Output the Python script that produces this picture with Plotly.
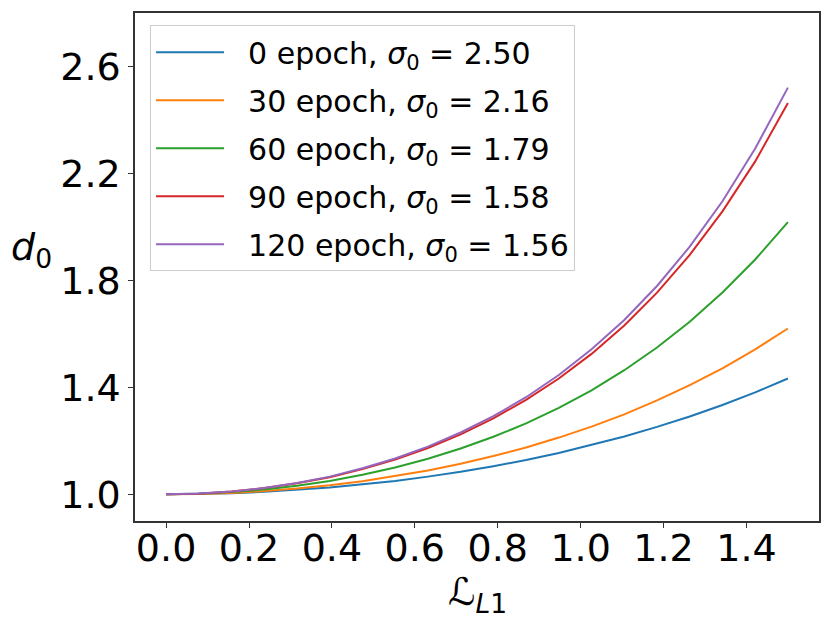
import plotly.graph_objects as go

# Data
loss_l1 = [0.0, 0.0789, 0.1579, 0.2368, 0.3158, 0.3947, 0.4737, 0.5526, 0.6316, 0.7105,
           0.7895, 0.8684, 0.9474, 1.0263, 1.1053, 1.1842, 1.2632, 1.3421, 1.4211, 1.5]
d0_epoch0 = [1.000, 1.001, 1.004, 1.009, 1.016, 1.025, 1.037, 1.050, 1.066, 1.084,
             1.105, 1.128, 1.154, 1.184, 1.216, 1.252, 1.291, 1.334, 1.381, 1.433]
d0_epoch30 = [1.000, 1.001, 1.005, 1.012, 1.022, 1.034, 1.049, 1.068, 1.089, 1.114,
              1.143, 1.175, 1.212, 1.253, 1.299, 1.351, 1.408, 1.471, 1.542, 1.620]
d0_epoch60 = [1.000, 1.002, 1.008, 1.018, 1.032, 1.050, 1.073, 1.100, 1.133, 1.171,
              1.215, 1.265, 1.323, 1.389, 1.464, 1.549, 1.645, 1.755, 1.878, 2.018]
d0_epoch90 = [1.000, 1.002, 1.010, 1.023, 1.041, 1.064, 1.094, 1.130, 1.173, 1.224,
              1.284, 1.353, 1.433, 1.525, 1.631, 1.754, 1.895, 2.058, 2.245, 2.463]
d0_epoch120 = [1.000, 1.003, 1.010, 1.023, 1.042, 1.066, 1.097, 1.134, 1.178, 1.231,
               1.292, 1.363, 1.446, 1.542, 1.652, 1.779, 1.926, 2.096, 2.293, 2.521]

series_names = [
    "0 epoch, <i>σ</i><sub>0</sub> = 2.50",
    "30 epoch, <i>σ</i><sub>0</sub> = 2.16",
    "60 epoch, <i>σ</i><sub>0</sub> = 1.79",
    "90 epoch, <i>σ</i><sub>0</sub> = 1.58",
    "120 epoch, <i>σ</i><sub>0</sub> = 1.56",
]
series_values = [d0_epoch0, d0_epoch30, d0_epoch60, d0_epoch90, d0_epoch120]
colors = ['#1f77b4', '#ff7f0e', '#2ca02c', '#d62728', '#9467bd']

x_ticks = [0.0, 0.2, 0.4, 0.6, 0.8, 1.0, 1.2, 1.4]
y_ticks = [1.0, 1.4, 1.8, 2.2, 2.6]

FONT = "DejaVu Sans"

fig = go.Figure()

for i, (name, vals, col) in enumerate(zip(series_names, series_values, colors)):
    fig.add_trace(go.Scatter(
        x=loss_l1,
        y=vals,
        mode='lines',
        # small lead-in gap so the label sits away from the line sample
        name="&nbsp;&nbsp;" + name,
        legendgroup=str(i),
        line=dict(color=col, width=2),
    ))

fig.update_layout(
    width=830,
    height=626,
    margin=dict(l=127, r=19, t=3, b=113),
    paper_bgcolor='white',
    plot_bgcolor='white',
    font=dict(family=FONT, color='black'),
    showlegend=True,
    legend=dict(
        x=0.022, y=0.976, xanchor='left', yanchor='top',
        bgcolor='rgba(255,255,255,0.8)',
        bordercolor='#cccccc', borderwidth=1,
        font=dict(family=FONT, size=30, color='black'),
        itemwidth=68,
        tracegroupgap=6,
    ),
    annotations=[
        dict(text="<i>d</i><sub>0</sub>", xref='paper', yref='paper',
             x=-0.151, y=0.535, xanchor='center', yanchor='middle',
             showarrow=False,
             font=dict(family=FONT, size=38, color='black')),
        dict(text="ℒ<sub><i>L</i>1</sub>", xref='paper', yref='paper',
             x=0.5, y=-0.145, xanchor='center', yanchor='middle',
             showarrow=False,
             font=dict(family=FONT, size=38, color='black')),
    ],
)

fig.update_xaxes(
    range=[-0.075, 1.575],
    tickvals=x_ticks,
    ticktext=[f"{v:.1f}" for v in x_ticks],
    ticks='outside', ticklen=5, tickwidth=1.2, tickcolor='#333333',
    ticklabelstandoff=-12,
    tickfont=dict(family=FONT, size=38, color='black'),
    showline=True, linecolor='#333333', linewidth=1.5, mirror=True,
    showgrid=False, zeroline=False,
)
fig.update_yaxes(
    range=[0.9, 2.8],
    tickvals=y_ticks,
    ticktext=[f"{v:.1f}" for v in y_ticks],
    ticks='outside', ticklen=5, tickwidth=1.2, tickcolor='#333333',
    tickfont=dict(family=FONT, size=38, color='black'),
    showline=True, linecolor='#333333', linewidth=1.5, mirror=True,
    showgrid=False, zeroline=False,
)

fig.write_html("out.html")
